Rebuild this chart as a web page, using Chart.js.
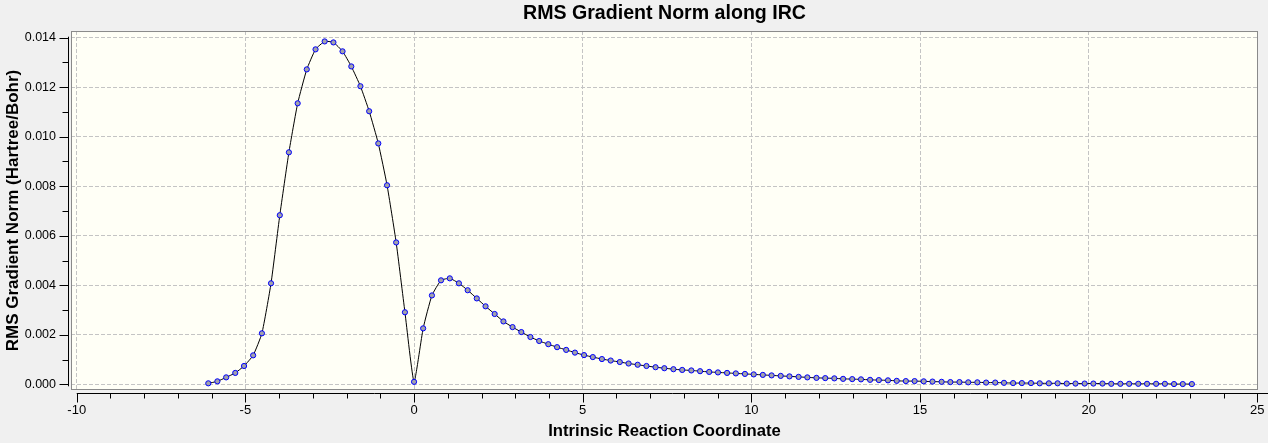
<!DOCTYPE html>
<html>
<head>
<meta charset="utf-8">
<title>RMS Gradient Norm along IRC</title>
<script src="https://cdn.jsdelivr.net/npm/chart.js@4.4.1/dist/chart.umd.min.js"></script>
<style>
  html, body { margin: 0; padding: 0; background: #f0f0f0; }
  #mychart { display: block; }
</style>
</head>
<body>
<canvas id="mychart" width="1268" height="443"></canvas>
<script>
// IRC points (x = reaction coordinate, y = RMS gradient norm)
var irc = [
    -6.10, -5.83, -5.57, -5.30, -5.04, -4.77, -4.51, -4.24, -3.98, -3.71,
    -3.45, -3.18, -2.92, -2.65, -2.39, -2.12, -1.86, -1.59, -1.33, -1.06,
    -0.80, -0.53, -0.27, 0.00, 0.27, 0.53, 0.80, 1.06, 1.33, 1.59,
    1.86, 2.12, 2.39, 2.65, 2.92, 3.18, 3.45, 3.71, 3.98, 4.24,
    4.51, 4.77, 5.04, 5.30, 5.57, 5.83, 6.10, 6.36, 6.63, 6.89,
    7.16, 7.42, 7.69, 7.95, 8.22, 8.48, 8.75, 9.01, 9.28, 9.54,
    9.81, 10.07, 10.34, 10.60, 10.87, 11.13, 11.40, 11.66, 11.93, 12.19,
    12.46, 12.72, 12.99, 13.25, 13.52, 13.78, 14.05, 14.31, 14.58, 14.84,
    15.11, 15.37, 15.64, 15.90, 16.17, 16.43, 16.70, 16.96, 17.23, 17.49,
    17.76, 18.02, 18.29, 18.55, 18.82, 19.08, 19.35, 19.61, 19.88, 20.14,
    20.41, 20.67, 20.94, 21.20, 21.47, 21.73, 22.00, 22.26, 22.53, 22.79,
    23.06
];
var gradNorm = [
    0.00004, 0.00012, 0.00028, 0.00046, 0.00074, 0.00117, 0.00206, 0.00408, 0.00683, 0.00937,
    0.01135, 0.01272, 0.01353, 0.01385, 0.01381, 0.01345, 0.01284, 0.01204, 0.01103, 0.00973,
    0.00804, 0.00573, 0.00291, 0.00010, 0.00226, 0.00359, 0.00420, 0.00428, 0.00408, 0.00380,
    0.00347, 0.00315, 0.00284, 0.00254, 0.00231, 0.00211, 0.00191, 0.00175, 0.00162, 0.00150,
    0.00139, 0.00128, 0.00118, 0.00110, 0.00102, 0.00096, 0.00090, 0.00084, 0.00079, 0.00074,
    0.00069, 0.00065, 0.00061, 0.00058, 0.00056, 0.00053, 0.00050, 0.00048, 0.00046, 0.00044,
    0.00042, 0.00040, 0.00038, 0.00036, 0.00034, 0.00032, 0.00030, 0.00028, 0.00026, 0.00025,
    0.00024, 0.00022, 0.00021, 0.00020, 0.00018, 0.00017, 0.00016, 0.00014, 0.00013, 0.00013,
    0.00012, 0.00011, 0.00010, 0.00009, 0.00009, 0.00008, 0.00008, 0.00007, 0.00007, 0.00006,
    0.00005, 0.00005, 0.00005, 0.00004, 0.00004, 0.00004, 0.00003, 0.00003, 0.00003, 0.00003,
    0.00003, 0.00002, 0.00002, 0.00002, 0.00002, 0.00002, 0.00002, 0.00002, 0.00001, 0.00001,
    0.00001
];

// axis ticks
var xMajorTicks = [-10, -5, 0, 5, 10, 15, 20, 25];
var xMinorTicks = [-9, -8, -7, -6, -4, -3, -2, -1, 1, 2, 3, 4, 6, 7, 8, 9,
                   11, 12, 13, 14, 16, 17, 18, 19, 21, 22, 23, 24];
var yMajorTicks = [0, 0.002, 0.004, 0.006, 0.008, 0.010, 0.012, 0.014];
var yMinorTicks = [0.001, 0.003, 0.005, 0.007, 0.009, 0.011, 0.013];

var fontFamily = '"Liberation Sans", Arial, sans-serif';

var points = irc.map(function(x, i) { return {x: x, y: gradNorm[i]}; });

// background, plot frame and the detached axes with their tick marks
var framePlugin = {
    id: 'frame',
    beforeDraw: function(chart) {
        var ctx = chart.ctx, a = chart.chartArea;
        ctx.save();
        ctx.fillStyle = '#f0f0f0';
        ctx.fillRect(0, 0, chart.width, chart.height);
        ctx.fillStyle = '#fffff6';
        ctx.fillRect(a.left, a.top, a.right - a.left, a.bottom - a.top);
        ctx.restore();
    },
    afterDraw: function(chart) {
        var ctx = chart.ctx, a = chart.chartArea;
        var xs = chart.scales.x, ys = chart.scales.y;
        ctx.save();
        ctx.strokeStyle = '#8a8a8a';
        ctx.lineWidth = 1;
        ctx.strokeRect(a.left + 0.5, a.top + 0.5, a.right - a.left - 1, a.bottom - a.top - 1);

        ctx.strokeStyle = '#000';
        ctx.beginPath();
        // y axis
        var yx = a.left - 2.5;
        ctx.moveTo(yx, ys.getPixelForValue(0.014) - 1);
        ctx.lineTo(yx, ys.getPixelForValue(0) + 2);
        yMajorTicks.forEach(function(v) {
            var p = Math.round(ys.getPixelForValue(v)) + 0.5;
            ctx.moveTo(yx - 9, p); ctx.lineTo(yx, p);
        });
        yMinorTicks.forEach(function(v) {
            var p = Math.round(ys.getPixelForValue(v)) + 0.5;
            ctx.moveTo(yx - 6, p); ctx.lineTo(yx, p);
        });
        // x axis
        var xy = a.bottom + 3.5;
        ctx.moveTo(xs.getPixelForValue(-10), xy);
        ctx.lineTo(chart.width, xy);
        xMajorTicks.forEach(function(v) {
            var p = Math.round(xs.getPixelForValue(v)) + 0.5;
            ctx.moveTo(p, xy); ctx.lineTo(p, xy + 9);
        });
        xMinorTicks.forEach(function(v) {
            var p = Math.round(xs.getPixelForValue(v)) + 0.5;
            ctx.moveTo(p, xy); ctx.lineTo(p, xy + 5);
        });
        ctx.stroke();
        ctx.restore();
    }
};

var config = {
    type: 'line',
    data: {
        datasets: [{
            label: 'RMS Gradient Norm',
            data: points,
            borderColor: '#000000',
            borderWidth: 1,
            tension: 0.15,
            pointRadius: 2.6,
            pointBorderWidth: 1,
            pointBackgroundColor: '#a2a2aa',
            pointBorderColor: '#0000ff',
            fill: false
        }]
    },
    options: {
        responsive: false,
        animation: false,
        events: [],
        layout: { padding: { left: 0, right: 10, top: 0, bottom: 0 } },
        plugins: {
            legend: { display: false },
            tooltip: { enabled: false },
            title: {
                display: true,
                fullSize: false,
                text: 'RMS Gradient Norm along IRC',
                color: '#000',
                font: { family: fontFamily, size: 19.6, weight: 'bold' },
                padding: { top: 2.3, bottom: 5.2 }
            }
        },
        scales: {
            x: {
                type: 'linear',
                min: -10.17,
                max: 25.02,
                afterBuildTicks: function(scale) {
                    scale.ticks = xMajorTicks.map(function(v) { return {value: v}; });
                },
                afterFit: function(scale) {
                    scale.height = 53;
                    scale.paddingLeft = 0;
                    scale.paddingRight = 0;
                },
                grid: { color: '#c4c4c4', lineWidth: 1, drawTicks: false },
                border: { display: false, dash: [4, 2] },
                ticks: {
                    autoSkip: false,
                    maxRotation: 0,
                    padding: 13,
                    color: '#000',
                    font: { family: fontFamily, size: 13 },
                    callback: function(v) { return String(v); }
                },
                title: {
                    display: true,
                    text: 'Intrinsic Reaction Coordinate',
                    color: '#000',
                    font: { family: fontFamily, size: 16.7, weight: 'bold' },
                    padding: { top: 0, bottom: 1.4 }
                }
            },
            y: {
                type: 'linear',
                min: -0.00023,
                max: 0.01427,
                afterBuildTicks: function(scale) {
                    scale.ticks = yMajorTicks.map(function(v) { return {value: v}; });
                },
                afterFit: function(scale) {
                    scale.width = 71;
                    scale.paddingTop = 0;
                    scale.paddingBottom = 0;
                },
                grid: { color: '#c4c4c4', lineWidth: 1, drawTicks: false },
                border: { display: false, dash: [4, 2] },
                ticks: {
                    autoSkip: false,
                    padding: 15,
                    color: '#000',
                    font: { family: fontFamily, size: 12.5 },
                    callback: function(v) { return v.toFixed(3); }
                },
                title: {
                    display: true,
                    text: 'RMS Gradient Norm (Hartree/Bohr)',
                    color: '#000',
                    font: { family: fontFamily, size: 17, weight: 'bold' },
                    padding: { top: 2.8, bottom: 0 }
                }
            }
        }
    },
    plugins: [framePlugin]
};

var ctx = document.getElementById('mychart').getContext('2d');
window.myChart = new Chart(ctx, config);
</script>
</body>
</html>
